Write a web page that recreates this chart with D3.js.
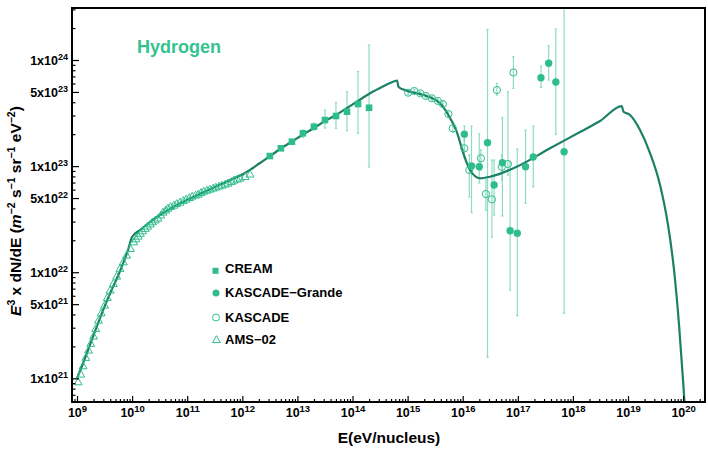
<!DOCTYPE html>
<html><head><meta charset="utf-8">
<script src="https://cdn.jsdelivr.net/npm/d3@7"></script>
<style>
body{margin:0;background:#fff}
svg{display:block;font-family:"Liberation Sans",Arial,sans-serif;font-weight:bold}
</style>
</head><body><svg id="c" width="708" height="449"></svg>
<script>
// ---- data (log10 values) ----
const modelLogE = [9.000,9.091,9.200,9.309,9.417,9.526,9.635,9.744,9.853,9.926,9.998,10.143,10.325,10.506,10.688,10.996,11.232,11.505,11.777,12.049,12.321,12.503,12.702,12.902,13.102,13.301,13.501,13.700,13.900,14.100,14.299,14.499,14.680,14.808,14.835,14.984,15.285,15.588,15.739,15.891,16.011,16.132,16.314,16.495,16.980,17.584,18.129,18.492,18.886,18.915,19.036,19.218,19.399,19.581,19.726,19.835,19.926,19.998,20.034];
const modelLogF = [21.003,21.116,21.267,21.418,21.568,21.710,21.842,21.964,22.106,22.209,22.332,22.398,22.473,22.539,22.596,22.680,22.737,22.803,22.869,22.935,23.029,23.095,23.166,23.232,23.298,23.359,23.425,23.482,23.548,23.614,23.680,23.736,23.783,23.807,23.746,23.711,23.670,23.592,23.482,23.324,23.121,22.963,22.885,22.900,22.994,23.168,23.321,23.425,23.566,23.515,23.482,23.340,23.123,22.822,22.445,22.021,21.502,20.984,20.701];

const creamLogE = [12.5,12.7,12.9,13.1,13.3,13.5,13.7,13.9,14.1,14.3];
const creamLogF = [23.095,23.168,23.230,23.309,23.371,23.434,23.472,23.513,23.585,23.550];
const creamLo   = [23.080,23.153,23.215,23.270,23.340,23.359,23.356,23.334,23.309,22.992];
const creamHi   = [23.110,23.183,23.245,23.340,23.406,23.529,23.598,23.701,23.890,24.141];

const kgLogE = [16.03,16.16,16.30,16.45,16.57,16.72,16.86,16.99,17.14,17.28,17.42,17.56,17.69,17.84];
const kgLogF = [23.300,23.001,22.994,23.221,22.822,23.032,22.391,22.367,22.994,23.086,23.833,23.969,23.793,23.136];
const kgLo   = [23.152,22.561,22.841,21.198,22.539,22.530,21.832,21.590,22.649,22.806,23.743,23.811,23.300,21.613];
const kgHi   = [23.378,23.378,23.303,24.289,23.057,23.456,23.039,23.161,23.340,23.378,23.943,24.135,24.292,24.700];

const kaLogE = [15.01,15.12,15.23,15.33,15.44,15.55,15.64,15.74,15.82,16.03,16.12,16.33,16.42,16.53,16.62,16.71,16.82,16.92];
const kaLogF = [23.692,23.708,23.686,23.661,23.639,23.614,23.585,23.491,23.356,23.168,22.963,23.074,22.737,22.687,23.717,22.992,23.020,23.882];
const kaLo   = [23.675,23.690,23.668,23.643,23.620,23.595,23.565,23.470,23.320,23.086,22.709,22.963,22.586,22.329,23.670,22.869,22.916,23.733];
const kaHi   = [23.710,23.726,23.704,23.679,23.658,23.633,23.605,23.512,23.390,23.246,23.105,23.152,22.869,23.057,23.780,23.105,23.701,24.031];

const amsLogE = [9.02,9.07,9.11,9.16,9.21,9.25,9.30,9.34,9.39,9.44,9.50,9.55,9.60,9.66,9.72,9.78,9.84,9.90,9.97,10.03,10.07,10.11,10.15,10.19,10.24,10.28,10.33,10.37,10.42,10.47,10.52,10.56,10.61,10.65,10.70,10.76,10.81,10.87,10.93,10.98,11.04,11.09,11.15,11.20,11.25,11.30,11.36,11.41,11.47,11.52,11.58,11.63,11.69,11.74,11.80,11.85,11.91,11.96,12.05,12.14];
const amsLogF = [20.968,21.041,21.119,21.198,21.267,21.330,21.399,21.471,21.549,21.618,21.691,21.763,21.832,21.895,21.964,22.037,22.099,22.162,22.225,22.287,22.315,22.341,22.367,22.391,22.414,22.435,22.456,22.476,22.494,22.511,22.540,22.567,22.587,22.605,22.620,22.633,22.648,22.662,22.677,22.690,22.705,22.718,22.728,22.737,22.751,22.765,22.774,22.784,22.794,22.803,22.813,22.822,22.832,22.841,22.855,22.869,22.879,22.888,22.902,22.926];

const yMajor = [[1,21],[5,21],[1,22],[5,22],[1,23],[5,23],[1,24]];
const xMajor = [9,10,11,12,13,14,15,16,17,18,19,20];
const legendNames = ["CREAM","KASCADE\u2212Grande","KASCADE","AMS\u221202"];
const titleText = "Hydrogen";

// ---- drawing ----
const P = v => Math.pow(10, v);
const L = 72, R = 705, T = 8, B = 402;
const mark = "#2fbd8b", lineCol = "#1b8067", errCol = "#8fdcc2";

const svg = d3.select("#c");
const x = d3.scaleLog().domain([P(8.909), P(20.397)]).range([L, R]);
const y = d3.scaleLog().domain([P(20.777), P(24.49)]).range([B, T]);

svg.append("clipPath").attr("id","clip").append("rect").attr("x",L).attr("y",T).attr("width",R-L).attr("height",B-T);
const plot = svg.append("g").attr("clip-path","url(#clip)");

// minor ticks
const yMinor = [];
for (let e = 20; e <= 24; e++) for (let m = 2; m <= 9; m++) { const v = m*P(e); if (m!==5 && v>=y.domain()[0] && v<=y.domain()[1]) yMinor.push(v); }
const xMinor = [];
for (let e = 8; e <= 20; e++) for (let m = 2; m <= 9; m++) { const v = m*P(e); if (v>=x.domain()[0] && v<=x.domain()[1]) xMinor.push(v); }

const gyMin = svg.append("g").attr("transform",`translate(${L},0)`)
  .call(d3.axisLeft(y).tickValues(yMinor).tickSize(-3.5).tickFormat(""));
const gy = svg.append("g").attr("transform",`translate(${L},0)`)
  .call(d3.axisLeft(y).tickValues(yMajor.map(d=>d[0]*P(d[1]))).tickSize(-7).tickPadding(4).tickFormat(""));
const gxMin = svg.append("g").attr("transform",`translate(0,${B})`)
  .call(d3.axisBottom(x).tickValues(xMinor).tickSize(-3).tickFormat(""));
const gx = svg.append("g").attr("transform",`translate(0,${B})`)
  .call(d3.axisBottom(x).tickValues(xMajor.map(P)).tickSize(-6).tickPadding(4).tickFormat(""));
[gyMin,gy,gxMin,gx].forEach(g=>{ g.select(".domain").remove(); g.selectAll("line").attr("stroke","#000").attr("stroke-width",1.2); });

// y tick labels
gy.selectAll(".tick").each(function(d,i){
  const t = d3.select(this).select("text").attr("x",-4).attr("dy",null).attr("y",4.5)
    .attr("font-size",12.5).attr("font-weight","bold").attr("text-anchor","end").attr("fill","#000");
  t.text(null);
  t.append("tspan").text(yMajor[i][0]+"x10");
  t.append("tspan").attr("dy",-5).attr("font-size",9).text(yMajor[i][1]);
});
gx.selectAll(".tick").each(function(d,i){
  const t = d3.select(this).select("text").attr("dy",null).attr("y",15)
    .attr("font-size",12.5).attr("font-weight","bold").attr("text-anchor","middle").attr("fill","#000");
  t.text(null);
  t.append("tspan").text("10");
  t.append("tspan").attr("dy",-5).attr("font-size",9.5).text(xMajor[i]);
});

// frame
svg.append("rect").attr("x",L).attr("y",T).attr("width",R-L).attr("height",B-T)
  .attr("fill","none").attr("stroke","#000").attr("stroke-width",2);

// error bars
function errBars(E, lo, hi){
  const g = plot.append("g").attr("stroke",errCol).attr("stroke-width",1.2);
  E.forEach((e,i)=>{
    const xx = x(P(e));
    g.append("line").attr("x1",xx).attr("x2",xx).attr("y1",y(P(lo[i]))).attr("y2",y(P(hi[i])));
    [lo[i],hi[i]].forEach(v=>g.append("line").attr("x1",xx-1.2).attr("x2",xx+1.2).attr("y1",y(P(v))).attr("y2",y(P(v))));
  });
}
errBars(creamLogE, creamLo, creamHi);
errBars(kaLogE, kaLo, kaHi);
errBars(kgLogE, kgLo, kgHi);

// model line
plot.append("path")
  .attr("d", d3.line().curve(d3.curveMonotoneX).x(d=>x(P(d[0]))).y(d=>y(P(d[1])))(modelLogE.map((e,i)=>[e,modelLogF[i]])))
  .attr("fill","none").attr("stroke",lineCol).attr("stroke-width",2.2).attr("stroke-linejoin","round");

// markers
const tri = d3.symbol().type(d3.symbolTriangle).size(27);
plot.append("g").selectAll("path").data(amsLogE).join("path")
  .attr("transform",(d,i)=>`translate(${x(P(d))},${y(P(amsLogF[i]))+0.8})`)
  .attr("d",tri).attr("fill","none").attr("stroke",mark).attr("stroke-width",1);
plot.append("g").selectAll("circle").data(kaLogE).join("circle")
  .attr("cx",d=>x(P(d))).attr("cy",(d,i)=>y(P(kaLogF[i]))).attr("r",3.6)
  .attr("fill","none").attr("stroke",mark).attr("stroke-width",1);
plot.append("g").selectAll("circle").data(kgLogE).join("circle")
  .attr("cx",d=>x(P(d))).attr("cy",(d,i)=>y(P(kgLogF[i]))).attr("r",3.7).attr("fill",mark);
plot.append("g").selectAll("rect").data(creamLogE).join("rect")
  .attr("x",d=>x(P(d))-3.3).attr("y",(d,i)=>y(P(creamLogF[i]))-3.3).attr("width",6.6).attr("height",6.6).attr("fill",mark);

// title
svg.append("text").attr("x",137).attr("y",53).attr("font-size",18).attr("fill","#35c28f").text(titleText);

// legend
const lg = svg.append("g");
const ly = [273.3, 297.3, 321.7, 344.3];
lg.append("rect").attr("x",212.5).attr("y",ly[0]-5.5).attr("width",6).attr("height",6).attr("fill",mark);
lg.append("circle").attr("cx",216).attr("cy",ly[1]-4.2).attr("r",3.5).attr("fill",mark);
lg.append("circle").attr("cx",216).attr("cy",ly[2]-4.2).attr("r",3.5).attr("fill","none").attr("stroke",mark).attr("stroke-width",1);
lg.append("path").attr("transform",`translate(216.5,${ly[3]-4})`).attr("d",tri).attr("fill","none").attr("stroke",mark).attr("stroke-width",1);
legendNames.forEach((n,i)=>lg.append("text").attr("x",225).attr("y",ly[i]).attr("font-size",13).attr("fill","#000").text(n));

// axis titles
svg.append("text").attr("x",389).attr("y",443).attr("text-anchor","middle").attr("font-size",15.5).attr("fill","#000").text("E(eV/nucleus)");
const yt = svg.append("text").attr("transform","translate(21,211) rotate(-90)").attr("text-anchor","middle").attr("font-size",15.5).attr("fill","#000");
yt.append("tspan").attr("font-style","italic").text("E");
yt.append("tspan").attr("dy",-6).attr("font-size",10.5).text("3");
yt.append("tspan").attr("dy",6).text(" x dN/dE (");
yt.append("tspan").attr("font-style","italic").text("m");
yt.append("tspan").attr("dy",-6).attr("font-size",10.5).text("\u22122");
yt.append("tspan").attr("dy",6).text(" s");
yt.append("tspan").attr("dy",-6).attr("font-size",10.5).text("\u22121");
yt.append("tspan").attr("dy",6).text(" sr");
yt.append("tspan").attr("dy",-6).attr("font-size",10.5).text("\u22121");
yt.append("tspan").attr("dy",6).text(" eV");
yt.append("tspan").attr("dy",-6).attr("font-size",10.5).text("\u22122");
yt.append("tspan").attr("dy",6).text(")");
</script></body></html>
